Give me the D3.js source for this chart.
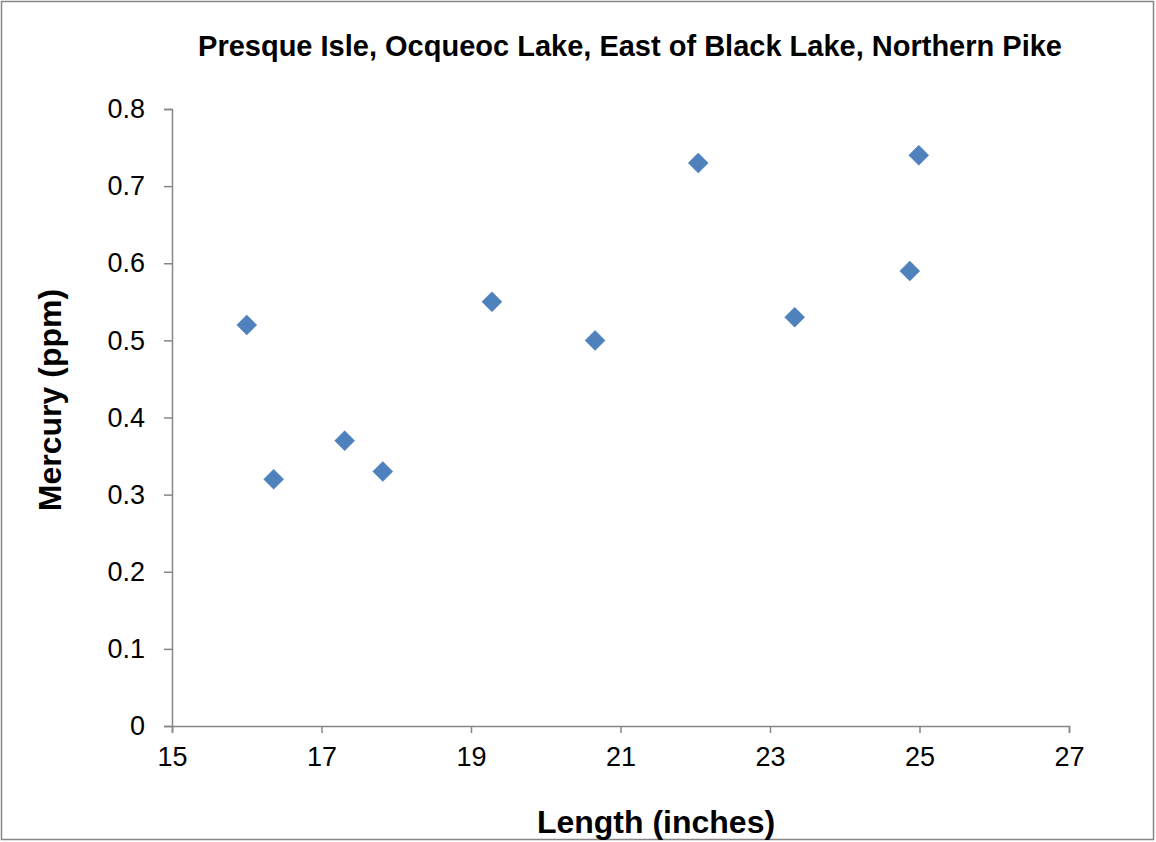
<!DOCTYPE html>
<html><head><meta charset="utf-8">
<script src="https://cdn.jsdelivr.net/npm/d3@7"></script>
<style>body{margin:0;background:#fff;}svg{display:block;font-family:"Liberation Sans",Arial,sans-serif;}</style>
</head><body>
<script>
const lengths = [16.0, 16.36, 17.31, 17.82, 19.28, 20.66, 22.04, 23.33, 24.87, 24.99];
const mercury = [0.52, 0.32, 0.37, 0.33, 0.55, 0.50, 0.73, 0.53, 0.59, 0.74];
const xTicks = [15, 17, 19, 21, 23, 25, 27];
const yTicks = [0, 0.1, 0.2, 0.3, 0.4, 0.5, 0.6, 0.7, 0.8];
const titleText = "Presque Isle, Ocqueoc Lake, East of Black Lake, Northern Pike";
const xTitle = "Length (inches)";
const yTitle = "Mercury (ppm)";

const W = 1156, H = 842;
const svg = d3.select("body").append("svg").attr("width", W).attr("height", H);
svg.append("rect").attr("x", 1.5).attr("y", 1.5).attr("width", W - 4).attr("height", H - 4)
  .attr("fill", "#fff").attr("stroke", "#868686").attr("stroke-width", 1.5);

const x = d3.scaleLinear().domain([15, 27]).range([172, 1069]);
const y = d3.scaleLinear().domain([0, 0.8]).range([726, 109]);

const axisColor = "#868686";
const gx = svg.append("g").attr("transform", `translate(0,${y(0)})`)
  .call(d3.axisBottom(x).tickValues(xTicks).tickSize(7).tickPadding(13).tickFormat(d3.format("d")));
const gy = svg.append("g").attr("transform", `translate(${x(15)},0)`)
  .call(d3.axisLeft(y).tickValues(yTicks).tickSize(8).tickPadding(19).tickFormat(d => d === 0 ? "0" : d3.format(".1f")(d)));
[gx, gy].forEach(g => {
  g.select(".domain").attr("stroke", axisColor).attr("stroke-width", 1.5);
  g.selectAll(".tick line").attr("stroke", axisColor).attr("stroke-width", 1.5);
  g.selectAll(".tick text").attr("fill", "#000").style("font-size", "27px").style("font-family", "'Liberation Sans',Arial,sans-serif");
});
gx.selectAll(".tick text").attr("dy", "0.75em");

const data = lengths.map((l, i) => ({ l, m: mercury[i] }));
svg.append("g").selectAll("path").data(data).join("path")
  .attr("transform", d => `translate(${x(d.l)},${y(d.m)})`)
  .attr("d", "M0,-10L10,0L0,10L-10,0Z")
  .attr("fill", "#4f81bd").attr("stroke", "#4a7ebb").attr("stroke-width", 0.5);

svg.append("text").attr("x", 630).attr("y", 56).attr("text-anchor", "middle")
  .style("font-size", "29px").style("font-weight", "bold").text(titleText);
svg.append("text").attr("x", 656).attr("y", 833).attr("text-anchor", "middle")
  .style("font-size", "32px").style("font-weight", "bold").text(xTitle);
svg.append("text").attr("transform", "translate(61,400) rotate(-90)").attr("text-anchor", "middle")
  .style("font-size", "32px").style("font-weight", "bold").text(yTitle);
</script>
</body></html>
